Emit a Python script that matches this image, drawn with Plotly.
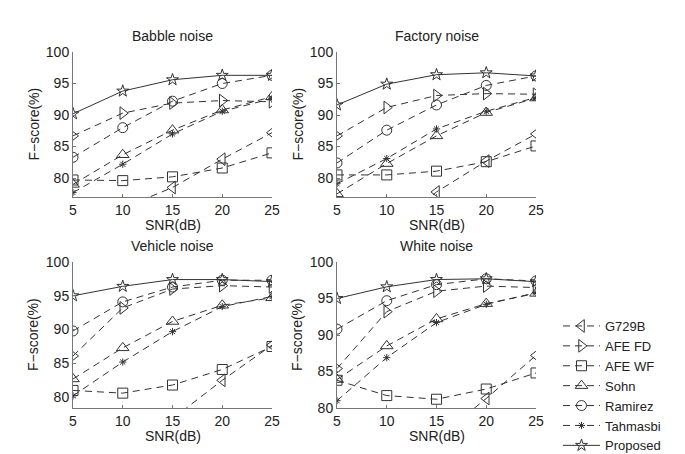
import plotly.graph_objects as go

snr = [5, 10, 15, 20, 25]
methods = ["G729B", "AFE FD", "AFE WF", "Sohn", "Ramirez", "Tahmasbi", "Proposed"]

babble = {
    "G729B":    [72.0, 75.2, 78.5, 83.0, 87.2],
    "AFE FD":   [86.7, 90.3, 91.9, 92.3, 92.1],
    "AFE WF":   [79.7, 79.6, 80.2, 81.6, 84.0],
    "Sohn":     [79.0, 83.7, 87.6, 90.8, 92.9],
    "Ramirez":  [83.3, 88.0, 92.2, 95.0, 96.3],
    "Tahmasbi": [77.7, 82.2, 87.0, 90.6, 92.6],
    "Proposed": [90.2, 93.8, 95.6, 96.3, 96.3],
}
factory = {
    "G729B":    [66.0, 71.0, 77.8, 82.7, 87.0],
    "AFE FD":   [86.7, 91.2, 93.1, 93.4, 93.3],
    "AFE WF":   [80.5, 80.5, 81.1, 82.6, 85.1],
    "Sohn":     [77.5, 82.3, 86.7, 90.4, 92.7],
    "Ramirez":  [82.4, 87.6, 91.6, 94.7, 96.2],
    "Tahmasbi": [79.1, 83.1, 87.8, 90.6, 92.8],
    "Proposed": [91.6, 94.9, 96.4, 96.7, 96.2],
}
vehicle = {
    "G729B":    [64.0, 70.0, 76.8, 82.5, 87.7],
    "AFE FD":   [86.1, 93.2, 96.0, 96.5, 96.3],
    "AFE WF":   [81.0, 80.6, 81.8, 84.1, 87.5],
    "Sohn":     [82.7, 87.3, 91.2, 93.6, 94.7],
    "Ramirez":  [89.8, 94.1, 96.3, 97.3, 97.3],
    "Tahmasbi": [80.2, 85.2, 89.7, 93.4, 94.9],
    "Proposed": [95.0, 96.4, 97.4, 97.4, 97.1],
}
white = {
    "G729B":    [64.0, 70.0, 75.8, 81.3, 87.2],
    "AFE FD":   [85.4, 93.2, 96.0, 96.7, 96.5],
    "AFE WF":   [83.8, 81.7, 81.2, 82.6, 84.8],
    "Sohn":     [83.9, 88.5, 92.2, 94.3, 95.7],
    "Ramirez":  [90.8, 94.7, 96.9, 97.7, 97.4],
    "Tahmasbi": [81.0, 86.9, 91.7, 94.2, 95.8],
    "Proposed": [95.0, 96.6, 97.6, 97.7, 97.3],
}

panels = [
    ("Babble noise", babble, [77.0, 100]),
    ("Factory noise", factory, [77.0, 100]),
    ("Vehicle noise", vehicle, [78.4, 100]),
    ("White noise", white, [80.0, 100]),
]
x_ticks = [5, 10, 15, 20, 25]
y_ticks = [80, 85, 90, 95, 100]
x_title = "SNR(dB)"
y_title = "F\u2212score(%)"

symbols = {
    "G729B": "triangle-left-open",
    "AFE FD": "triangle-right-open",
    "AFE WF": "square-open",
    "Sohn": "triangle-up-open",
    "Ramirez": "circle-open",
    "Tahmasbi": "asterisk-open",
    "Proposed": "star-open",
}
sizes = {"G729B": 11, "AFE FD": 11, "AFE WF": 10, "Sohn": 11, "Ramirez": 10,
         "Tahmasbi": 6, "Proposed": 9}

W, H = 685, 454
xdom_px = [(73, 272), (337, 536)]
ydom_px = [(52, 197), (262, 408)]

FONT = "Liberation Sans, Arial, sans-serif"
AX = "#777777"
TXT = "#222222"

fig = go.Figure()
layout = dict(
    width=W, height=H, margin=dict(l=0, r=0, t=0, b=0, autoexpand=False),
    paper_bgcolor="white", plot_bgcolor="white",
    font=dict(family=FONT, size=13, color=TXT),
    showlegend=True,
    legend=dict(x=558 / W, y=1 - 311 / H, xanchor="left", yanchor="top",
                font=dict(size=13, color=TXT), tracegroupgap=0,
                itemwidth=37, bgcolor="rgba(0,0,0,0)"),
)
annotations = []
for i, (title, data, yr) in enumerate(panels):
    r, c = divmod(i, 2)
    sfx = "" if i == 0 else str(i + 1)
    x0, x1 = xdom_px[c]
    y0, y1 = ydom_px[r]
    layout["xaxis" + sfx] = dict(
        domain=[x0 / W, x1 / W], range=[5, 25], anchor="y" + sfx,
        tickvals=x_ticks, ticks="inside", ticklen=3, tickcolor=AX,
        showline=True, linecolor=AX, linewidth=1, showgrid=False, zeroline=False,
        tickfont=dict(size=14), automargin=False,
    )
    layout["yaxis" + sfx] = dict(
        domain=[1 - y1 / H, 1 - y0 / H], range=yr, anchor="x" + sfx,
        tickvals=y_ticks, ticks="inside", ticklen=3, tickcolor=AX,
        showline=True, linecolor=AX, linewidth=1, showgrid=False, zeroline=False,
        tickfont=dict(size=14), automargin=False,
    )
    annotations.append(dict(text=title, x=(x0 + x1) / 2 / W, y=1 - (y0 - 16) / H,
                            xref="paper", yref="paper", showarrow=False,
                            xanchor="center", yanchor="middle",
                            font=dict(size=14, color=TXT)))
    annotations.append(dict(text=x_title, x=(x0 + x1) / 2 / W, y=1 - (y1 + 28) / H,
                            xref="paper", yref="paper", showarrow=False,
                            xanchor="center", yanchor="middle",
                            font=dict(size=14, color=TXT)))
    annotations.append(dict(text=y_title, x=(x0 - 40) / W, y=1 - (y0 + y1) / 2 / H,
                            xref="paper", yref="paper", showarrow=False,
                            xanchor="center", yanchor="middle", textangle=-90,
                            font=dict(size=14, color=TXT)))
    for m in methods:
        solid = m == "Proposed"
        fig.add_trace(go.Scatter(
            x=snr, y=data[m], name=m, mode="lines+markers",
            xaxis="x" + sfx, yaxis="y" + sfx,
            legendgroup=m, showlegend=(i == 0),
            line=dict(color="#333333", width=1, dash="solid" if solid else "7px,5px"),
            marker=dict(symbol=symbols[m], size=sizes[m], color="#333333",
                        line=dict(color="#333333", width=1)),
        ))
layout["annotations"] = annotations
fig.update_layout(**layout)
fig.write_html("out.html", config={"displayModeBar": False},
               post_script="document.body.style.margin='0';")
